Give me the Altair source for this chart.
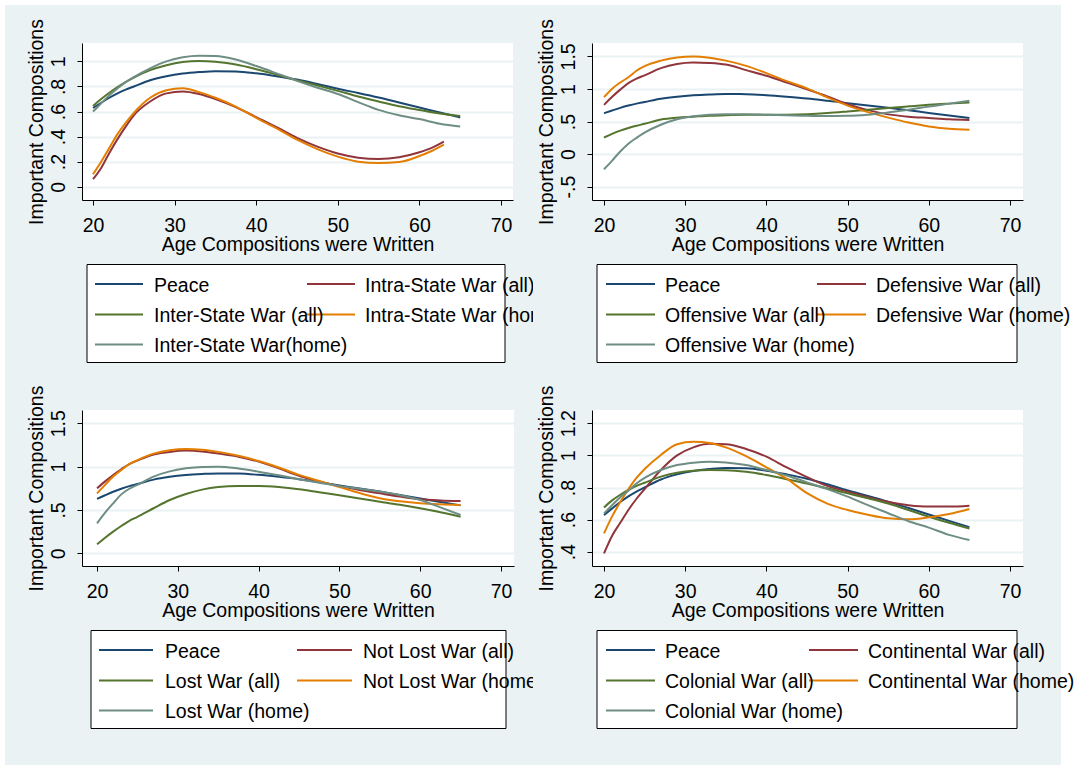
import altair as alt
import pandas as pd

FONT = "Liberation Sans"
FS = 19.5
BG = "#EAF2F3"
COLORS = ["#1A476F", "#90353B", "#55752F", "#E37E00", "#6E8E84"]

# ---- data -------------------------------------------------------------
AGES = [20, 21, 22, 23, 24, 25, 27, 29, 31, 33, 35, 37.5, 40, 42.5, 45,
        47.5, 50, 52.5, 55, 57.5, 60, 62.5, 65]
AGES_63 = [20, 21, 22, 23, 24, 25, 27, 29, 31, 33, 35, 37.5, 40, 42.5, 45,
           47.5, 50, 52.5, 55, 57.5, 60, 61.5, 63]
X_TICKS = [20, 30, 40, 50, 60, 70]

PEACE = [0.628, 0.67, 0.71, 0.745, 0.775, 0.80, 0.85, 0.882, 0.903, 0.915, 0.922,
         0.92, 0.905, 0.882, 0.855, 0.82, 0.782, 0.748, 0.712, 0.672, 0.632, 0.592, 0.553]

# Inter-/Intra-state wars
LABELS_STATE = ["Peace", "Intra-State War (all)", "Inter-State War (all)",
                "Intra-State War (home)", "Inter-State War(home)"]
INTRA_ALL = [0.06, 0.15, 0.27, 0.38, 0.48, 0.57, 0.68, 0.745, 0.76, 0.74, 0.70,
             0.635, 0.555, 0.475, 0.39, 0.32, 0.265, 0.232, 0.222, 0.235, 0.275, 0.31, 0.36]
INTER_ALL = [0.645, 0.70, 0.75, 0.795, 0.835, 0.87, 0.93, 0.97, 0.995, 1.003, 0.998,
             0.975, 0.938, 0.895, 0.85, 0.808, 0.765, 0.72, 0.68, 0.643, 0.613, 0.585, 0.565]
INTRA_HOME = [0.10, 0.20, 0.31, 0.42, 0.51, 0.59, 0.71, 0.77, 0.785, 0.755, 0.71,
              0.64, 0.55, 0.465, 0.375, 0.30, 0.24, 0.20, 0.19, 0.197, 0.245, 0.285, 0.335]
INTER_HOME = [0.60, 0.665, 0.73, 0.785, 0.835, 0.875, 0.945, 1.0, 1.033, 1.045, 1.043,
              1.015, 0.963, 0.905, 0.845, 0.79, 0.74, 0.675, 0.613, 0.57, 0.54, 0.503, 0.48]

# Defensive / offensive wars
LABELS_DEF = ["Peace", "Defensive War (all)", "Offensive War (all)",
              "Defensive War (home)", "Offensive War (home)"]
DEF_ALL = [0.756, 0.88, 0.99, 1.09, 1.16, 1.21, 1.32, 1.385, 1.408, 1.40, 1.375,
           1.29, 1.203, 1.10, 0.995, 0.885, 0.765, 0.675, 0.61, 0.575, 0.555, 0.535, 0.525]
OFF_ALL = [0.254, 0.31, 0.36, 0.40, 0.435, 0.465, 0.53, 0.56, 0.575, 0.59, 0.598,
           0.603, 0.603, 0.605, 0.613, 0.63, 0.654, 0.68, 0.708, 0.733, 0.756, 0.775, 0.792]
DEF_HOME = [0.874, 1.005, 1.10, 1.18, 1.28, 1.35, 1.435, 1.485, 1.50, 1.48, 1.435,
            1.355, 1.244, 1.12, 1.01, 0.87, 0.745, 0.645, 0.56, 0.485, 0.425, 0.39, 0.372]
OFF_HOME = [-0.233, -0.10, 0.04, 0.16, 0.25, 0.33, 0.45, 0.535, 0.58, 0.605, 0.613,
            0.613, 0.603, 0.595, 0.587, 0.585, 0.587, 0.605, 0.64, 0.68, 0.731, 0.775, 0.818]

# Lost / not lost wars
LABELS_LOST = ["Peace", "Not Lost War (all)", "Lost War (all)",
               "Not Lost War (home)", "Lost War (home)"]
NOTLOST_ALL = [0.75, 0.83, 0.904, 0.97, 1.03, 1.07, 1.14, 1.17, 1.185, 1.175, 1.15,
               1.115, 1.058, 0.98, 0.895, 0.83, 0.775, 0.73, 0.692, 0.655, 0.623, 0.61, 0.604]
LOST_ALL = [0.104, 0.18, 0.25, 0.315, 0.375, 0.42, 0.52, 0.615, 0.685, 0.735, 0.765,
            0.777, 0.777, 0.765, 0.74, 0.705, 0.67, 0.632, 0.596, 0.56, 0.519, 0.475, 0.423]
NOTLOST_HOME = [0.692, 0.79, 0.885, 0.96, 1.03, 1.075, 1.15, 1.19, 1.204, 1.195, 1.17,
                1.125, 1.065, 0.99, 0.905, 0.835, 0.765, 0.695, 0.635, 0.60, 0.577, 0.565, 0.558]
LOST_HOME = [0.346, 0.47, 0.577, 0.68, 0.745, 0.79, 0.885, 0.945, 0.98, 0.997, 1.0,
             0.978, 0.942, 0.90, 0.855, 0.815, 0.775, 0.745, 0.712, 0.67, 0.615, 0.53, 0.442]

# Continental / colonial wars
LABELS_CONT = ["Peace", "Continental War (all)", "Colonial War (all)",
               "Continental War (home)", "Colonial War (home)"]
CONT_ALL = [0.39, 0.50, 0.58, 0.66, 0.73, 0.79, 0.909, 1.0, 1.05, 1.072, 1.07,
            1.04, 0.992, 0.925, 0.865, 0.81, 0.774, 0.74, 0.71, 0.69, 0.681, 0.681, 0.687]
COL_ALL = [0.676, 0.72, 0.755, 0.785, 0.81, 0.83, 0.868, 0.892, 0.905, 0.909, 0.908,
           0.898, 0.878, 0.852, 0.825, 0.795, 0.764, 0.733, 0.70, 0.66, 0.618, 0.58, 0.545]
CONT_HOME = [0.514, 0.62, 0.71, 0.79, 0.86, 0.915, 1.003, 1.07, 1.085, 1.078, 1.05,
             0.995, 0.926, 0.855, 0.765, 0.70, 0.66, 0.63, 0.608, 0.602, 0.614, 0.635, 0.666]
COL_HOME = [0.639, 0.69, 0.74, 0.78, 0.825, 0.86, 0.909, 0.94, 0.955, 0.961, 0.956,
            0.94, 0.909, 0.875, 0.832, 0.79, 0.743, 0.69, 0.64, 0.59, 0.55, 0.505, 0.473]

ONE = pd.DataFrame({"k": [0]})


def panel(labels, series, xdom, ydom, yticks, width, height):
    recs = []
    for lab, col, (ages, vals) in zip(labels, COLORS, series):
        for a, v in zip(ages, vals):
            recs.append({"age": a, "value": v, "series": lab, "color": col})
    df = pd.DataFrame(recs)
    return alt.Chart(df).mark_line(strokeWidth=2, interpolate="monotone", clip=True).encode(
        x=alt.X("age:Q",
                scale=alt.Scale(domain=xdom, nice=False, zero=False),
                axis=alt.Axis(values=X_TICKS, title="Age Compositions were Written",
                              grid=False, labelBaseline="alphabetic", labelPadding=26,
                              labelFlush=False, labelOverlap=False,
                              titleX=width / 2, titleY=50, titleAlign="center",
                              titleBaseline="alphabetic")),
        y=alt.Y("value:Q",
                scale=alt.Scale(domain=ydom, nice=False, zero=False),
                axis=alt.Axis(values=yticks,
                              labelExpr="replace(toString(datum.value), '0.', '.')",
                              labelAngle=270, labelAlign="center", labelBaseline="alphabetic",
                              labelPadding=13, labelOverlap=False, labelFlush=False,
                              grid=True, gridColor=BG, gridWidth=2,
                              title="Important Compositions", titleX=-40, titleY=height / 2,
                              titleAngle=270, titleAlign="center", titleBaseline="alphabetic")),
        color=alt.Color("color:N", scale=None),
        detail="series:N",
    ).properties(width=width, height=height,
                 view=alt.ViewBackground(fill="white", strokeWidth=0))


def legend(labels, lay, width, height, clip):
    recs = []
    for i, (lab, col) in enumerate(zip(labels, COLORS)):
        r, c = divmod(i, 2)
        y = lay["rows"][r]
        x1, x2 = lay["lines"][c]
        recs.append({"label": lab, "color": col, "x1": x1, "x2": x2, "y": y,
                     "tx": lay["text"][c], "ty": y + 7.5})
    df = pd.DataFrame(recs)
    bx0, bx1, by0, by1 = lay["box"]
    box = alt.Chart(ONE).mark_rect(fill="white", stroke="black", strokeWidth=1).encode(
        x=alt.value(bx0), x2=alt.value(bx1), y=alt.value(by0), y2=alt.value(by1))
    keys = alt.Chart(df).mark_rule(strokeWidth=2).encode(
        x=alt.X("x1:Q", scale=None, axis=None), x2="x2:Q",
        y=alt.Y("y:Q", scale=None, axis=None),
        color=alt.Color("color:N", scale=None))
    texts = alt.Chart(df).mark_text(align="left", baseline="alphabetic", fontSize=FS,
                                    font=FONT, color="black", clip=clip).encode(
        x=alt.X("tx:Q", scale=None, axis=None),
        y=alt.Y("ty:Q", scale=None, axis=None),
        text="label:N")
    return alt.layer(box, keys, texts).properties(width=width, height=height)


ROWS = [84, 114.5, 144.5]
LAY_TL = {"box": [5, 423, 64.5, 162.5], "rows": ROWS, "lines": [[13, 61], [225, 273]], "text": [72, 283]}
LAY_TR = {"box": [5, 425, 64.5, 162.5], "rows": ROWS, "lines": [[14, 63], [225, 274]], "text": [73, 284]}
LAY_BL = {"box": [9, 424, 64.5, 162.5], "rows": ROWS, "lines": [[17, 71], [215, 270]], "text": [83, 281]}
LAY_BR = {"box": [5, 425, 64.5, 162.5], "rows": ROWS, "lines": [[14, 63], [217, 266]], "text": [73, 276]}

tl = panel(LABELS_STATE,
           [(AGES, PEACE), (AGES_63, INTRA_ALL), (AGES, INTER_ALL), (AGES_63, INTRA_HOME), (AGES, INTER_HOME)],
           [18.65, 71.47], [-0.106, 1.147], [0, 0.2, 0.4, 0.6, 0.8, 1], 431, 157)
tr = panel(LABELS_DEF,
           [(AGES, PEACE), (AGES, DEF_ALL), (AGES, OFF_ALL), (AGES, DEF_HOME), (AGES, OFF_HOME)],
           [18.52, 71.60], [-0.705, 1.706], [-0.5, 0, 0.5, 1, 1.5], 431, 157)
bl = panel(LABELS_LOST,
           [(AGES, PEACE), (AGES, NOTLOST_ALL), (AGES, LOST_ALL), (AGES, NOTLOST_HOME), (AGES, LOST_HOME)],
           [18.14, 71.61], [-0.146, 1.653], [0, 0.5, 1, 1.5], 432, 156)
br = panel(LABELS_CONT,
           [(AGES, PEACE), (AGES, CONT_ALL), (AGES, COL_ALL), (AGES, CONT_HOME), (AGES, COL_HOME)],
           [18.52, 71.60], [0.311, 1.283], [0.4, 0.6, 0.8, 1, 1.2], 431, 156)

leg_tl = legend(LABELS_STATE, LAY_TL, 451, 210, True)
leg_tr = legend(LABELS_DEF, LAY_TR, 431, 210, False)
leg_bl = legend(LABELS_LOST, LAY_BL, 451, 199, True)
leg_br = legend(LABELS_CONT, LAY_BR, 431, 199, False)

# graph region background, drawn first so every panel sits on top of it
backdrop = alt.Chart(ONE).mark_rect(fill=BG).encode(
    x=alt.value(-77), x2=alt.value(979), y=alt.value(0), y2=alt.value(760)
).properties(width=451, height=38)
spacer = alt.Chart(ONE).mark_rect(opacity=0).encode(
    x=alt.value(0), x2=alt.value(1), y=alt.value(0), y2=alt.value(1)
).properties(width=1, height=1)

chart = alt.concat(
    backdrop, spacer,
    tl, tr,
    leg_tl, leg_tr,
    bl, br,
    leg_bl, leg_br,
    columns=2, spacing={"row": 0, "column": 59}, bounds="flush", align="each",
).properties(
    padding=5, background="white"
).configure(
    font=FONT
).configure_axis(
    labelFont=FONT, labelFontSize=FS, labelColor="black",
    titleFont=FONT, titleFontSize=FS, titleFontWeight="normal", titleColor="black",
    domainColor="black", domainWidth=1, tickColor="black", tickSize=5, tickWidth=1,
).configure_view(strokeWidth=0)

chart.save("out.html", embed_options={"renderer": "svg", "actions": False})
